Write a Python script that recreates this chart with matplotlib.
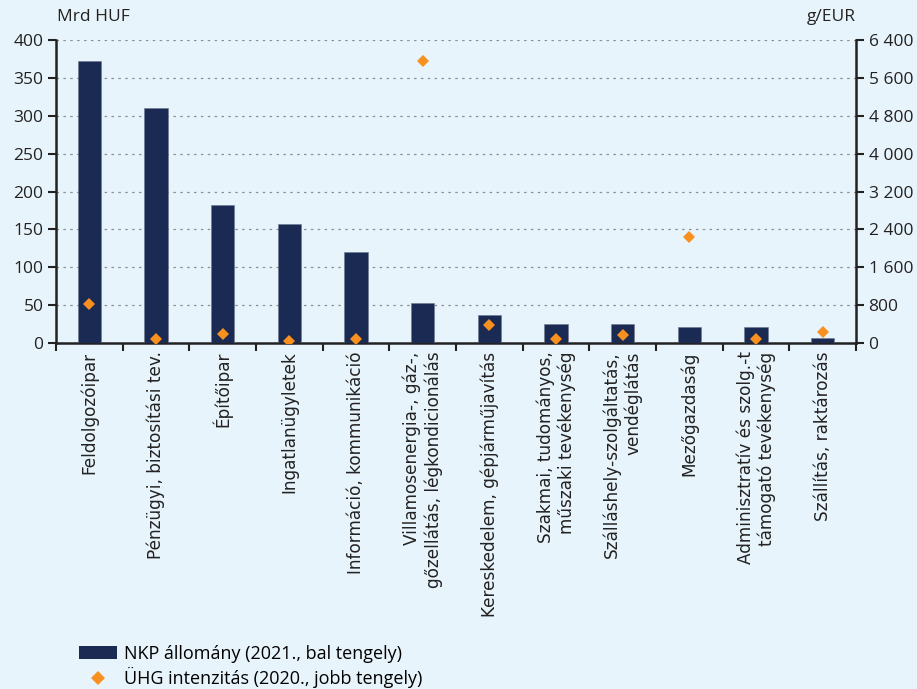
import matplotlib
matplotlib.use("Agg")
import matplotlib.pyplot as plt
import numpy as np
from matplotlib.lines import Line2D
from matplotlib.patches import Patch

categories = [
    "Feldolgozóipar",
    "Pénzügyi, biztosítási tev.",
    "Építőipar",
    "Ingatlanügyletek",
    "Információ, kommunikáció",
    "Villamosenergia-, gáz-,\ngőzellátás, légkondicionálás",
    "Kereskedelem, gépjárműjavítás",
    "Szakmai, tudományos,\nműszaki tevékenység",
    "Szálláshely-szolgáltatás,\nvendéglátás",
    "Mezőgazdaság",
    "Adminisztratív és szolg.-t\ntámogató tevékenység",
    "Szállítás, raktározás",
]
nkp_values = [372, 310, 182, 157, 120, 53, 37, 25, 25, 21, 21, 7]
uhg_values = [820, 97, 200, 48, 97, 5950, 386, 97, 169, 2240, 97, 240]
left_ticks = [0, 50, 100, 150, 200, 250, 300, 350, 400]
right_ticks = [0, 800, 1600, 2400, 3200, 4000, 4800, 5600, 6400]
right_labels = ["0", "800", "1 600", "2 400", "3 200", "4 000", "4 800", "5 600", "6 400"]

bg = "#E8F4FB"
bar_color = "#1B2A52"
orange = "#F7901E"
font = "Open Sans"
plt.rcParams["font.family"] = [font, "DejaVu Sans"]

fig = plt.figure(figsize=(9.17, 6.89), dpi=100, facecolor=bg)
ax = fig.add_axes([0.061, 0.502, 0.8725, 0.44])
ax.set_facecolor(bg)
ax2 = ax.twinx()

x = np.arange(len(categories))
ax.bar(x, nkp_values, width=0.35, color=bar_color, edgecolor="#6b7790", linewidth=0.4, zorder=3)
ax2.plot(x, uhg_values, linestyle="none", marker="D", markersize=6.5, color=orange,
         markeredgewidth=0, zorder=4)

ax.set_xlim(-0.5, len(categories) - 0.5)
ax.set_ylim(0, 400)
ax2.set_ylim(0, 6400)
ax.set_yticks(left_ticks)
ax.set_yticklabels([str(v) for v in left_ticks], fontsize=12.5, color="#222222")
ax2.set_yticks(right_ticks)
ax2.set_yticklabels(right_labels, fontsize=12.5, color="#222222")

for t in left_ticks[1:]:
    ax.axhline(t, color="#8a8f96", linestyle=(0, (2, 3.5)), linewidth=0.9, zorder=1)

ax.set_xticks(np.arange(len(categories) + 1) - 0.5)
ax.set_xticklabels([])
ax.set_xticks(x, minor=True)
ax.set_xticklabels(categories, minor=True, rotation=90, fontsize=12.2, ha="center",
                   va="top", multialignment="right", color="#222222",
                   family=["DejaVu Sans"])
ax.tick_params(axis="x", which="major", length=6, width=1.5, direction="out", color="#222222")
ax.tick_params(axis="x", which="minor", length=0, pad=6)
ax.tick_params(axis="y", length=6, width=1.5, direction="out", pad=3, color="#222222")
ax2.tick_params(axis="y", length=6, width=1.5, direction="out", pad=3, color="#222222")

for a in (ax, ax2):
    a.spines["top"].set_visible(False)
    for s in ("left", "right", "bottom"):
        a.spines[s].set_linewidth(1.8)
        a.spines[s].set_color("#222222")
ax.spines["right"].set_visible(False)
ax2.spines["left"].set_visible(False)
ax2.spines["bottom"].set_visible(False)

fig.text(0.062, 0.963, "Mrd HUF", fontsize=12.5, color="#222222", ha="left", va="bottom")
fig.text(0.933, 0.963, "g/EUR", fontsize=12.5, color="#222222", ha="right", va="bottom")

handles = [
    Patch(facecolor=bar_color, edgecolor="none"),
    Line2D([0], [0], linestyle="none", marker="D", markersize=7, color=orange, markeredgewidth=0),
]
labels = ["NKP állomány (2021., bal tengely)", "ÜHG intenzitás (2020., jobb tengely)"]
fig.legend(handles, labels, loc="lower left", bbox_to_anchor=(0.072, -0.017), frameon=False,
           prop={"family": ["Open Sans"], "size": 13},
           handlelength=2.15, handleheight=0.7, handletextpad=0.35, labelspacing=0.25,
           borderpad=0.2)

fig.savefig("out.png", dpi=100, facecolor=bg)
